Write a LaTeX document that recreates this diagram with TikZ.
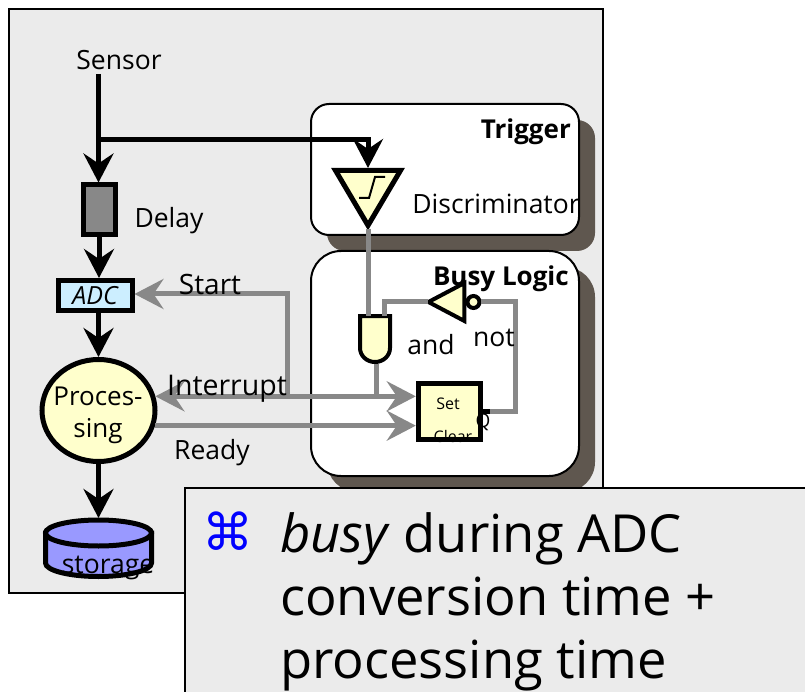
\documentclass[tikz,border=0pt]{standalone}
\usepackage{fontspec}
\setmainfont{Open Sans}
\newfontfamily\symbfont{DejaVu Sans}
\usetikzlibrary{shapes, arrows.meta, positioning, shadows}
\definecolor{panelgray}{HTML}{EBEBEB}
\definecolor{wiregray}{HTML}{888888}
\definecolor{shadowgray}{HTML}{5F574F}
\definecolor{gateyellow}{HTML}{FFFFCC}
\definecolor{adcblue}{HTML}{CCEEFF}
\definecolor{storeblue}{HTML}{9999FF}

\begin{document}
\begin{tikzpicture}[
        x=1pt, y=-1pt,
        label/.style={font=\fontsize{26.5}{30}\selectfont, inner sep=0pt},
        boldlabel/.style={font=\fontsize{26}{30}\selectfont\bfseries, inner sep=0pt, anchor=east},
        smalllabel/.style={font=\fontsize{16}{18}\selectfont, inner sep=0pt},
        panel/.style={rectangle, draw, line width=2pt, fill=panelgray, inner sep=0pt},
        logicbox/.style={rectangle, draw, line width=2pt, fill=white, inner sep=0pt, drop shadow={shadow xshift=16pt, shadow yshift=-16pt, fill=shadowgray, opacity=1}},
        delaybox/.style={rectangle, draw, line width=5pt, fill=wiregray, minimum width=32pt, minimum height=50pt, inner sep=0pt},
        adcbox/.style={rectangle, draw, line width=5pt, fill=adcblue, minimum width=74pt, minimum height=30pt, inner sep=0pt, font=\fontsize{25}{30}\selectfont\itshape},
        procnode/.style={ellipse, draw, line width=5pt, fill=gateyellow, minimum width=113pt, minimum height=102pt, inner sep=0pt},
        storebody/.style={line width=5pt, draw=black, fill=storeblue},
        gate/.style={isosceles triangle, isosceles triangle stretches, draw, fill=gateyellow, inner sep=0pt},
        sig/.style={line width=5pt, -{Stealth[length=29pt, width=30pt, inset=10pt]}},
        wire/.style={line width=5pt, draw=wiregray},
        gsig/.style={wire, -{Stealth[length=29pt, width=30pt, inset=10pt]}},
        gsigboth/.style={wire, {Stealth[length=29pt, width=30pt, inset=10pt]}-{Stealth[length=29pt, width=30pt, inset=10pt]}}
    ]
        \useasboundingbox (0,0) rectangle (805,692);
        \clip (0,0) rectangle (805,692);

        % Backdrop
        \node[panel, minimum width=594pt, minimum height=584pt] (panel) at (306,301) {};
        \node[logicbox, rounded corners=18pt, minimum width=268pt, minimum height=131pt] (trigger) at (445,169.5) {};
        \node[logicbox, rounded corners=30pt, minimum width=268pt, minimum height=225pt] (busy) at (445,363.5) {};
        \node[boldlabel] (triggertext) at (571,132) {Trigger};
        \node[boldlabel] (busytext) at (569,279) {Busy Logic};

        % Main chain
        \node[label] (sensor) at (119,60) {Sensor};
        \coordinate (sensorout) at (98.5,74);
        \node[delaybox] (delay) at (99,210) {};
        \node[adcbox, below=40.5pt of delay, xshift=-4pt] (adc) {ADC};
        \node[procnode, below=44pt of adc, xshift=3.5pt] (proc) {};
        \coordinate (storage) at (98.5,518);
        \draw[storebody] (45.5,533) -- (45.5,563) arc[start angle=180, end angle=360, x radius=53pt, y radius=13.5pt] -- (151.5,533) -- cycle;
        \draw[storebody] (98.5,533) ellipse[x radius=53pt, y radius=13pt];
        \draw[sig] (sensorout) -- (sensorout |- delay.north);
        \draw[sig] (delay.south) -- (delay.south |- adc.north);
        \draw[sig] (adc.south -| proc) -- (proc.north);
        \draw[sig] (proc) -- (storage);

        % Logic gates
        \node[gate, line width=5pt, shape border rotate=-90, minimum width=65pt, minimum height=55pt] (disc) at (368,189) {};
        \node[gate, line width=4pt, shape border rotate=180, minimum width=38pt, minimum height=36pt] (notgate) at (453,302) {};
        \node[circle, draw, line width=4pt, fill=gateyellow, minimum size=12pt, inner sep=0pt, right=-1pt of notgate] (bubble) {};
        \node[rectangle, fill=gateyellow, minimum width=67pt, minimum height=61pt, inner sep=0pt] (flop) at (449.5,411.5) {};
        \node[smalllabel] (settext) at (448,404) {Set};
        \node[smalllabel] (cleartext) at (453,436) {Clear};
        \draw[line width=5pt] ([shift={(2.5,2.5)}]flop.north west) rectangle ([shift={(-2.5,-2.5)}]flop.south east);
        \draw[line width=2pt] (359,198) -- (369,198) -- (375,177) -- (385,177);
        \coordinate (andin) at (368,316);
        \coordinate (andfeed) at (384,316);
        \coordinate (andout) at (376,364);
        \fill[gateyellow, draw=black, line width=4pt] (360,316) -- (390,316) -- (390,348) arc[start angle=0, end angle=180, x radius=15pt, y radius=-14pt] -- cycle;

        % Trigger branch
        \coordinate (branch) at (sensorout |- 0,140);
        \draw[sig] (branch) -| (disc.north |- 0,168);

        % Gray connections
        \coordinate (startbend) at (287,294);
        \draw[gsig] (startbend |- proc.14) -- (startbend) -- (startbend -| adc.east);
        \draw[gsigboth] (proc.14) -- (proc.14 -| flop.west);
        \draw[gsig] (proc.345) -- (proc.345 -| flop.west);
        \draw[wire] ([yshift=3pt]disc.apex) -- (andin);
        \draw[wire] (andout) -- (andout |- proc.14);
        \draw[wire] ([xshift=5pt]notgate.apex) -| (andfeed);
        \draw[wire] (bubble.east) -- (515,302) |- (490,411);
        \draw[line width=5pt] (flop.east |- 0,411) -- (490,411);

        % Labels
        \node[label, font=\fontsize{26}{32}\selectfont, align=center] (proctext) at (98,415) {Proces-\\sing};
        \node[label] (delaytext) at (169,221) {Delay};
        \node[label, font=\fontsize{28}{30}\selectfont] (starttext) at (210,284) {Start};
        \node[label, font=\fontsize{28.5}{30}\selectfont] (interrupttext) at (227,389) {Interrupt};
        \node[label] (readytext) at (212,453) {Ready};
        \node[label] (storagetext) at (108,568) {storage};
        \node[label] (disctext) at (496,204) {Discriminator};
        \node[label] (andtext) at (431,345) {and};
        \node[label] (nottext) at (494,338) {not};
        \node[inner sep=0pt, font=\fontsize{19}{20}\selectfont] (qtext) at (483,422) {Q};

        % Note
        \node[panel, minimum width=640pt, minimum height=220pt] (note) at (505,598) {};
        \node[font=\symbfont\fontsize{51}{55}\selectfont, text=blue, inner sep=0pt] (bullet) at (228,531) {⌘};
        \node[font=\fontsize{52.5}{63}\selectfont, align=left, anchor=north west, inner sep=0pt] (notetext) at (280,512) {\textit{busy} during ADC\\conversion time +\\processing time};
    \end{tikzpicture}
\end{document}
